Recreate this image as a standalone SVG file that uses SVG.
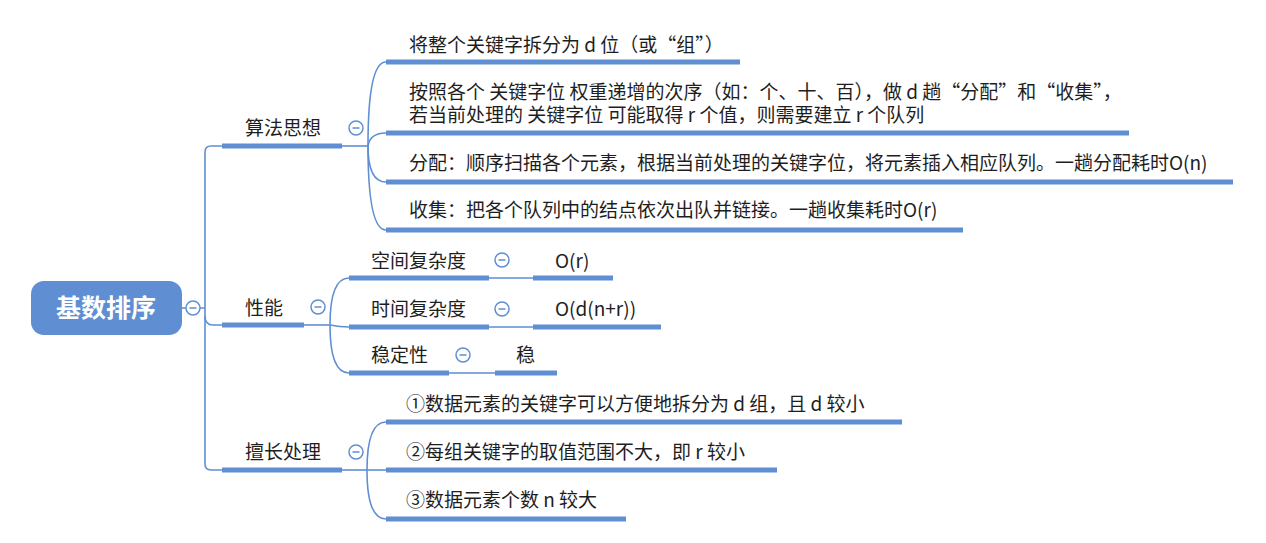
<svg xmlns="http://www.w3.org/2000/svg" width="1266" height="543" viewBox="0 0 1266 543">
<style>
.bg{fill:#ffffff}
.ul{stroke:#5f8fd2;stroke-width:5;fill:none}
.ln{stroke:#5f8fd2;stroke-width:1.6;fill:none}
.cc{fill:#ffffff;stroke:#5f8fd2;stroke-width:1.5}
.cm{stroke:#5f8fd2;stroke-width:1.5}
.t{font-family:"Noto Sans CJK SC","Noto Sans",sans-serif;font-size:19px;fill:#1e1e1e}
.root{font-family:"Noto Sans CJK SC","Noto Sans",sans-serif;font-size:25px;font-weight:bold;fill:#ffffff}
</style>
<defs>
<g id="col"><circle class="cc" r="7" cx="0" cy="0"/><line class="cm" x1="-3.5" y1="0" x2="3.5" y2="0"/></g>
</defs>
<rect class="bg" x="0" y="0" width="1266" height="543"/>

<g id="connectors">
<path class="ln" d="M181 308 H186 M200 308 H205"/>
<path class="ln" d="M222 146 H211 Q205 146 205 152 V464 Q205 470 211 470 H222"/>
<path class="ln" d="M205 316 Q205 325 213 325 H222"/>
<path class="ln" d="M342 146 H368"/>
<path class="ln" d="M368 146 Q368 62 386 62"/>
<path class="ln" d="M368 146 Q370 133 386 133"/>
<path class="ln" d="M368 146 Q368 182 386 182"/>
<path class="ln" d="M368 146 Q368 230 386 230"/>
<path class="ln" d="M304 325 H330"/>
<path class="ln" d="M330 325 Q330 278 349 278"/>
<path class="ln" d="M330 325 Q340 327 349 327"/>
<path class="ln" d="M330 325 Q330 373 349 373"/>
<path class="ln" d="M489 278 H533 M489 327 H533 M449 373 H495"/>
<path class="ln" d="M342 470 H367"/>
<path class="ln" d="M367 470 Q367 422 386 422"/>
<path class="ln" d="M367 470 H386"/>
<path class="ln" d="M367 470 Q367 519 386 519"/>
</g>

<g id="root">
<rect x="31" y="281" width="151" height="54" rx="13" fill="#5f8fd2"/>
<text class="root" x="106" y="317" text-anchor="middle">基数排序</text>
<use href="#col" x="193" y="308"/>
</g>

<g id="n-suanfa">
<path class="ul" d="M222 146 H342"/>
<text class="t" x="245" y="135">算法思想</text>
<use href="#col" x="356" y="128"/>
</g>
<g id="n-a1">
<path class="ul" d="M386 62 H740"/>
<text class="t" x="409" y="52">将整个关键字拆分为 d 位（或“组”）</text>
</g>
<g id="n-a2">
<path class="ul" d="M386 133 H1129"/>
<text class="t" x="409" y="99"><tspan x="409" y="99">按照各个 关键字位 权重递增的次序（如：个、十、百），做 d 趟“分配”和“收集”，</tspan><tspan x="409" y="122">若当前处理的 关键字位 可能取得 r 个值，则需要建立 r 个队列</tspan></text>
</g>
<g id="n-a3">
<path class="ul" d="M386 182 H1233"/>
<text class="t" x="409" y="170">分配：顺序扫描各个元素，根据当前处理的关键字位，将元素插入相应队列。一趟分配耗时O(n)</text>
</g>
<g id="n-a4">
<path class="ul" d="M386 230 H963"/>
<text class="t" x="409" y="217">收集：把各个队列中的结点依次出队并链接。一趟收集耗时O(r)</text>
</g>

<g id="n-xingneng">
<path class="ul" d="M222 325 H304"/>
<text class="t" x="245" y="315">性能</text>
<use href="#col" x="318" y="307"/>
</g>
<g id="n-kongjian">
<path class="ul" d="M349 278 H489"/>
<text class="t" x="371" y="268">空间复杂度</text>
<use href="#col" x="502" y="260"/>
</g>
<g id="n-kongjian-v">
<path class="ul" d="M533 278 H613"/>
<text class="t" x="555" y="268">O(r)</text>
</g>
<g id="n-shijian">
<path class="ul" d="M349 327 H489"/>
<text class="t" x="371" y="316">时间复杂度</text>
<use href="#col" x="502" y="309"/>
</g>
<g id="n-shijian-v">
<path class="ul" d="M533 327 H661"/>
<text class="t" x="555" y="316">O(d(n+r))</text>
</g>
<g id="n-wending">
<path class="ul" d="M349 373 H449"/>
<text class="t" x="371" y="362">稳定性</text>
<use href="#col" x="463" y="355"/>
</g>
<g id="n-wending-v">
<path class="ul" d="M495 373 H557"/>
<text class="t" x="516" y="362">稳</text>
</g>

<g id="n-shanchang">
<path class="ul" d="M222 470 H342"/>
<text class="t" x="245" y="459">擅长处理</text>
<use href="#col" x="356" y="452"/>
</g>
<g id="n-c1">
<path class="ul" d="M386 422 H902"/>
<text class="t" x="406" y="411">①数据元素的关键字可以方便地拆分为 d 组，且 d 较小</text>
</g>
<g id="n-c2">
<path class="ul" d="M386 470 H777"/>
<text class="t" x="406" y="459">②每组关键字的取值范围不大，即 r 较小</text>
</g>
<g id="n-c3">
<path class="ul" d="M386 519 H626"/>
<text class="t" x="406" y="507">③数据元素个数 n 较大</text>
</g>
</svg>
